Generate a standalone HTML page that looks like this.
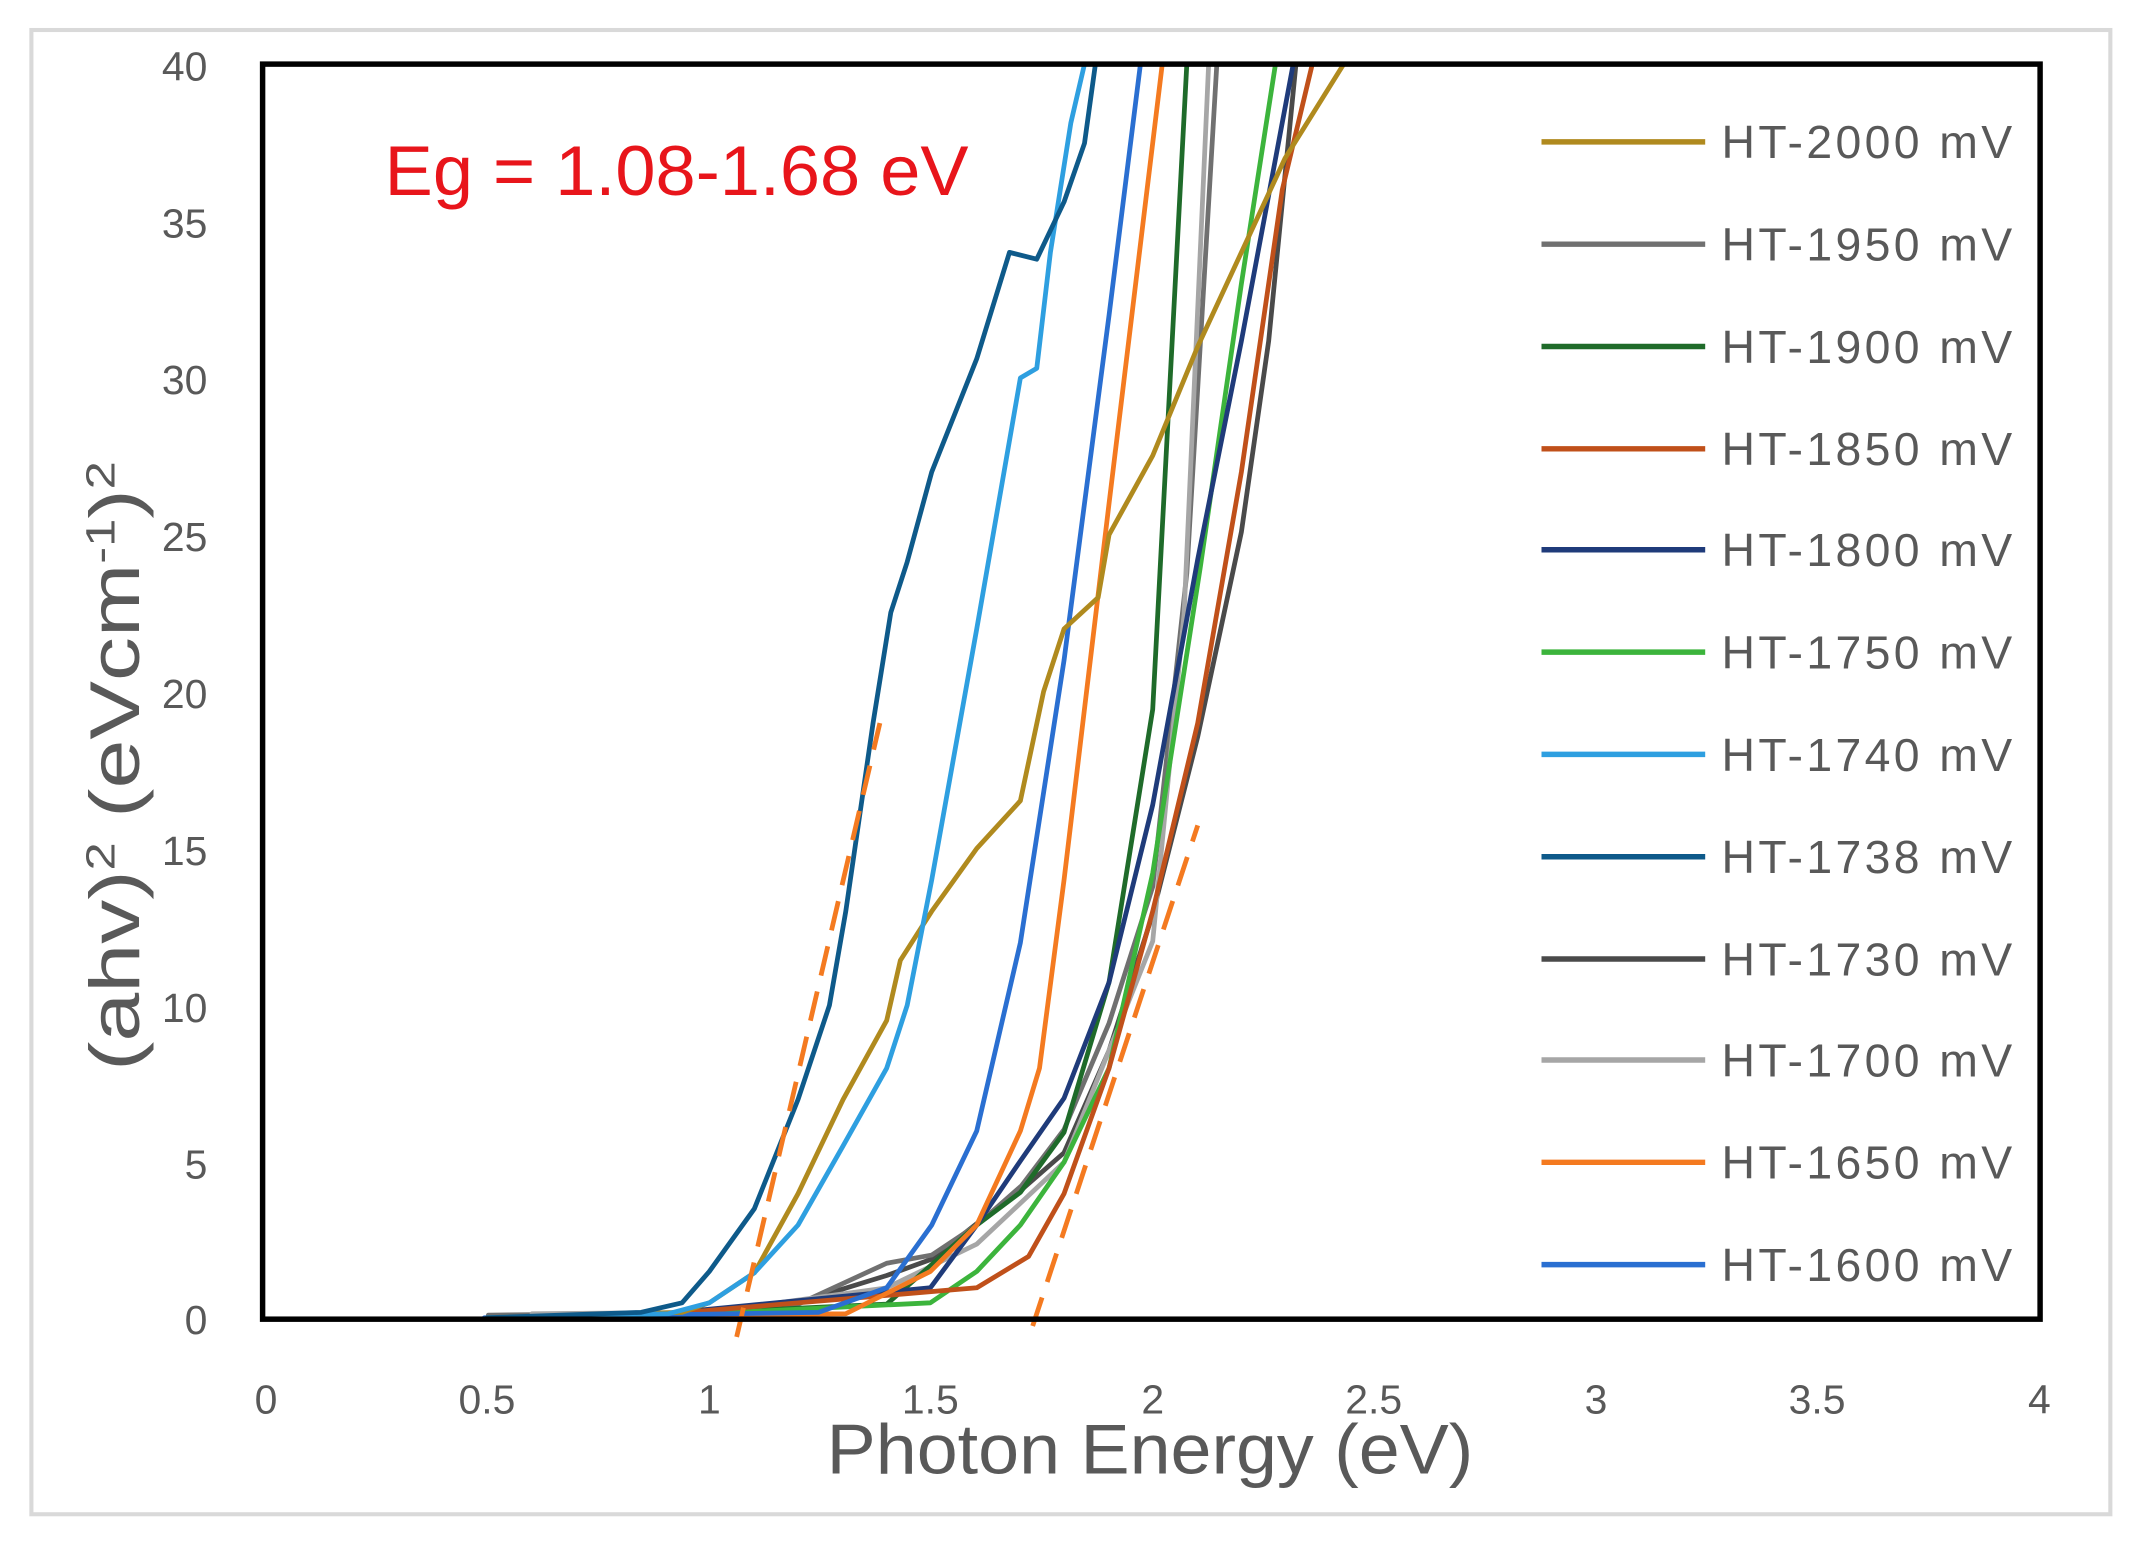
<!DOCTYPE html>
<html><head><style>html,body{margin:0;padding:0;background:#fff}svg{display:block}</style></head><body>
<svg width="2139" height="1547" viewBox="0 0 1568 1134" preserveAspectRatio="none" xmlns="http://www.w3.org/2000/svg" font-family="Liberation Sans, sans-serif">
<rect x="0" y="0" width="1568" height="1134" fill="#fff"/>
<rect x="23" y="22" width="1524" height="1088" fill="none" stroke="#d9d9d9" stroke-width="3"/>
<g fill="#595959" font-size="30" text-anchor="end">
<text x="152" y="978">0</text><text x="152" y="864">5</text><text x="152" y="749">10</text><text x="152" y="634">15</text><text x="152" y="519">20</text><text x="152" y="404">25</text><text x="152" y="289">30</text><text x="152" y="174">35</text><text x="152" y="59">40</text>
</g>
<g fill="#595959" font-size="30" text-anchor="middle">
<text x="195" y="1036">0</text><text x="357" y="1036">0.5</text><text x="520" y="1036">1</text><text x="682" y="1036">1.5</text><text x="845" y="1036">2</text><text x="1007" y="1036">2.5</text><text x="1170" y="1036">3</text><text x="1332" y="1036">3.5</text><text x="1495" y="1036">4</text>
</g>
<text x="606" y="1080" fill="#595959" font-size="52" textLength="474" lengthAdjust="spacingAndGlyphs">Photon Energy (eV)</text>
<text transform="translate(102,785) rotate(-90)" fill="#595959" font-size="52" textLength="447" lengthAdjust="spacingAndGlyphs">(ahv)<tspan font-size="30" dy="-18">2</tspan><tspan dy="18"> (eVcm</tspan><tspan font-size="30" dy="-18">-1</tspan><tspan dy="18">)</tspan><tspan font-size="30" dy="-18">2</tspan></text>
<text x="282" y="143" fill="#e8151b" font-size="52" textLength="428" lengthAdjust="spacingAndGlyphs">Eg = 1.08-1.68 eV</text>
<g fill="none" stroke-width="3.5" stroke-linejoin="round" stroke-linecap="round">
<polyline stroke="#4a4a4a" points="358,966 390,964 470,963 520,962 585,955 650,935 683,923 716,897 749,872 780,845 813,770 845,670 878,540 910,390 930,250 950,47"/>
<polyline stroke="#707070" points="358,964 470,963 520,962 585,956 650,926 683,920 716,898 749,869 780,828 813,750 845,650 870,420 892,47"/>
<polyline stroke="#a6a6a6" points="390,963 520,962 650,944 716,912 780,852 813,770 845,690 868,450 886,47"/>
<polyline stroke="#1f6b2a" points="455,965 650,956 716,898 748,874 780,830 813,720 845,520 870,47"/>
<polyline stroke="#3cb43c" points="455,966 682,955 716,932 748,898 780,852 813,783 845,640 880,415 910,208 935,47"/>
<polyline stroke="#1f3b7a" points="455,966 682,944 716,898 748,851 780,805 813,720 845,590 878,410 910,250 948,47"/>
<polyline stroke="#c0501a" points="455,966 716,944 754,921 780,875 813,783 845,668 878,530 910,346 940,139 962,47"/>
<polyline stroke="#f47a20" points="357,966 620,963 682,932 716,898 748,829 762,783 780,645 813,369 852,47"/>
<polyline stroke="#2a6fd1" points="355,966 600,962 650,944 683,898 716,829 748,691 780,484 813,231 836,47"/>
<polyline stroke="#b08a1e" points="357,966 500,962 520,955 553,933 585,875 618,806 650,748 660,704 683,668 716,622 748,587 765,507 780,461 805,438 813,392 845,334 878,254 910,185 942,116 985,47"/>
<polyline stroke="#2e9fe0" points="357,966 490,963 520,955 553,933 585,898 618,840 650,783 665,737 683,645 716,461 748,277 760,270 770,185 785,90 795,47"/>
<polyline stroke="#0e5a8a" points="357,966 470,962 500,955 520,932 553,886 585,806 608,737 620,668 640,530 653,449 665,412 683,346 716,263 740,185 760,190 780,148 795,105 803,47"/>
</g>
<g stroke="#f47a20" stroke-width="3.5" stroke-dasharray="22,12">
<line x1="540" y1="980" x2="645" y2="530"/><line x1="757" y1="972" x2="878" y2="605"/>
</g>
<rect x="192.5" y="47" width="1303" height="920" fill="none" stroke="#000" stroke-width="4"/>
<g stroke-width="4">
<line x1="1130" x2="1250" y1="104" y2="104" stroke="#b08a1e"/>
<line x1="1130" x2="1250" y1="179" y2="179" stroke="#707070"/>
<line x1="1130" x2="1250" y1="254" y2="254" stroke="#1f6b2a"/>
<line x1="1130" x2="1250" y1="329" y2="329" stroke="#c0501a"/>
<line x1="1130" x2="1250" y1="403" y2="403" stroke="#1f3b7a"/>
<line x1="1130" x2="1250" y1="478" y2="478" stroke="#3cb43c"/>
<line x1="1130" x2="1250" y1="553" y2="553" stroke="#2e9fe0"/>
<line x1="1130" x2="1250" y1="628" y2="628" stroke="#0e5a8a"/>
<line x1="1130" x2="1250" y1="703" y2="703" stroke="#4a4a4a"/>
<line x1="1130" x2="1250" y1="777" y2="777" stroke="#a6a6a6"/>
<line x1="1130" x2="1250" y1="852" y2="852" stroke="#f47a20"/>
<line x1="1130" x2="1250" y1="927" y2="927" stroke="#2a6fd1"/>
</g>
<g fill="#595959" font-size="34" textLength="213" lengthAdjust="spacingAndGlyphs">
<text x="1262" y="116" textLength="213">HT-2000 mV</text><text x="1262" y="191" textLength="213">HT-1950 mV</text><text x="1262" y="266" textLength="213">HT-1900 mV</text><text x="1262" y="341" textLength="213">HT-1850 mV</text><text x="1262" y="415" textLength="213">HT-1800 mV</text><text x="1262" y="490" textLength="213">HT-1750 mV</text><text x="1262" y="565" textLength="213">HT-1740 mV</text><text x="1262" y="640" textLength="213">HT-1738 mV</text><text x="1262" y="715" textLength="213">HT-1730 mV</text><text x="1262" y="789" textLength="213">HT-1700 mV</text><text x="1262" y="864" textLength="213">HT-1650 mV</text><text x="1262" y="939" textLength="213">HT-1600 mV</text>
</g>
</svg>
</body></html>
